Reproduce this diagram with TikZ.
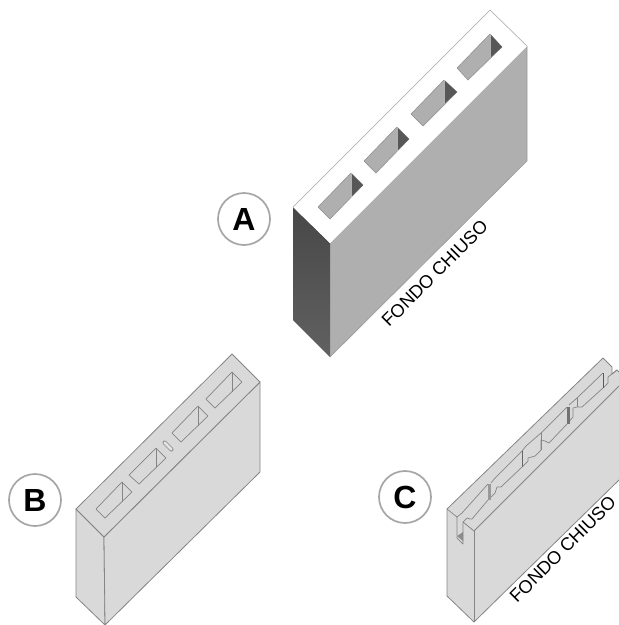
\documentclass[tikz,border=0pt]{standalone}
\usepackage{fontspec}
\setmainfont{Liberation Sans}
\definecolor{faceA}{HTML}{B0AFAF}
\definecolor{darkA}{HTML}{575757}
\definecolor{faceB}{HTML}{D9D9D9}
\definecolor{edgeB}{HTML}{858585}
\definecolor{edgeA}{HTML}{B4B4B4}
\tikzset{
  badge/.style={circle,draw=black!35,line width=1.7pt,fill=white,minimum size=52pt,inner sep=0pt,font=\fontsize{32}{32}\selectfont\bfseries},
  closedlabel/.style={rotate=45,font=\fontsize{18.2}{18.2}\selectfont,inner sep=0pt,anchor=base west},
  grayface/.style={fill=faceB,draw=edgeB,line width=0.8pt,line join=round},
  thinline/.style={draw=edgeB,line width=0.7pt,line join=round},
  holeA/.style={fill=faceA,draw=black!45,line width=0.5pt,line join=round},
  wedgeA/.style={fill=darkA,draw=none},
}
\begin{document}
\begin{tikzpicture}[x=1pt,y=-1pt]
\useasboundingbox (0,0) rectangle (619,625);
% ---------- block A
\fill[faceA] (330,243) -- (527,46) -- (527,161) -- (330,357) -- cycle;
\draw[black!40,line width=0.6pt] (527,46) -- (527,161) -- (330,357);
\shade[top color=black!72,bottom color=black!62] (293,207) -- (330,243) -- (330,357) -- (293,320) -- cycle;
\fill[white] (293,207) -- (490,10) -- (527,46) -- (330,243) -- cycle;
\draw[edgeA,line width=0.7pt,line join=round] (293,207) -- (490,10) -- (527,46);
\foreach \xa/\ya/\xb/\yb/\xc/\yc/\xd/\yd in {
  318/207/351/173/363/185/330/219,
  364/161/397/127/409/139/376/173,
  411/114/444/80/457/92/423/126,
  457/68/490/34/502/47/468/80}{
  \filldraw[holeA] (\xa,\ya) -- (\xb,\yb) -- (\xc,\yc) -- (\xd,\yd) -- cycle;
  \fill[wedgeA] (\xb,\yb) -- (\xc,\yc) -- (\xb,\yb+24) -- cycle;
  \draw[black!30,line width=0.5pt] (\xb,\yb) -- (\xb,\yb+24);
}
% ---------- block B
\filldraw[grayface] (76,509) -- (104,537) -- (105,625) -- (76,597) -- cycle;
\filldraw[grayface] (104,537) -- (260,382) -- (260,472) -- (105,625) -- cycle;
\filldraw[grayface] (76,509) -- (232,354) -- (260,382) -- (104,537) -- cycle;
\foreach \xa/\ya/\xb/\yb/\xc/\yc/\xd/\yd in {
  96/509/122/482/132/492/105/518,
  129/475/156/448/166/458/139/484,
  172/433/198/406/208/416/181/442,
  206/399/232/372/242/382/215/408}{
  \draw[thinline] (\xa,\ya) -- (\xb,\yb) -- (\xc,\yc) -- (\xd,\yd) -- cycle;
  \draw[thinline] (\xb,\yb) -- (\xb,\yb+20);
}
\draw[edgeB,line width=4pt,line cap=round] (164.5,442.5) -- (171.5,449.5);
\draw[faceB!70!white,line width=2.6pt,line cap=round] (164.5,442.5) -- (171.5,449.5);
% ---------- block C
% silhouette
\fill[faceB] (447,509) -- (603,358) -- (612,367) -- (612,374) -- (617,370) -- (619,372) -- (619,480) -- (474,622) -- (447,596) -- cycle;
\draw[edgeB,line width=0.8pt,line join=round] (619,480) -- (474,622) -- (447,596) -- (447,509) -- (603,358) -- (612,367) -- (612,374);
\draw[edgeB,line width=0.8pt,line join=round] (612,374) -- (617,370) -- (619,372);
\draw[edgeB,line width=0.8pt] (474,531) -- (474,622);
\draw[edgeB,line width=0.8pt] (463,522) -- (474,531) -- (619,386);
\draw[thinline] (447,509) -- (457,517) -- (457,538);
\fill[black!45] (457,536) -- (463,532) -- (463,541) -- cycle;
\draw[thinline] (457,538) -- (463,544) -- (463,522);
\draw[thinline] (457,517) -- (462,513) -- (488,484);
\draw[thinline] (495,478) -- (522,451);
\draw[thinline] (541,433) -- (567,407);
\draw[thinline] (577,398) -- (603,373);
\draw[thinline] (491,483) -- (495,478);
\draw[thinline] (522,451) -- (526,446) -- (541,433);
\draw[thinline] (569,405) -- (577,398);
% notched edge of the front rib
\draw[thinline] (463,522) -- (467,518) -- (470,519) -- (472,519) -- (488,500) -- (495,493) -- (497,487) -- (501,487) -- (522,467) -- (528,461) -- (528,458) -- (535,456) -- (541,450) -- (541,440) -- (545,441) -- (549,443) -- (567,424) -- (573,417) -- (573,408) -- (577,407) -- (582,407) -- (603,388) -- (608,383) -- (608,377) -- (617,370);
% upright bands in the groove
\fill[black!40] (488,484) rectangle (491,500);
\draw[black!60,line width=0.9pt] (522,451) -- (522,467);
\draw[thinline] (541,433) -- (541,450);
\fill[black!55] (567,407) rectangle (569.5,424);
\draw[thinline] (577,398) -- (577,407);
\draw[black!65,line width=0.8pt] (603,373) -- (603,388);
% ---------- labels
\node[badge] (badgeA) at (244,219) {A};
\node[badge] (badgeB) at (35,500) {B};
\node[badge] (badgeC) at (405,497) {C};
\node[closedlabel] (labelA) at (389,328) {FONDO CHIUSO};
\node[closedlabel] (labelC) at (517,604) {FONDO CHIUSO};
\end{tikzpicture}
\end{document}
